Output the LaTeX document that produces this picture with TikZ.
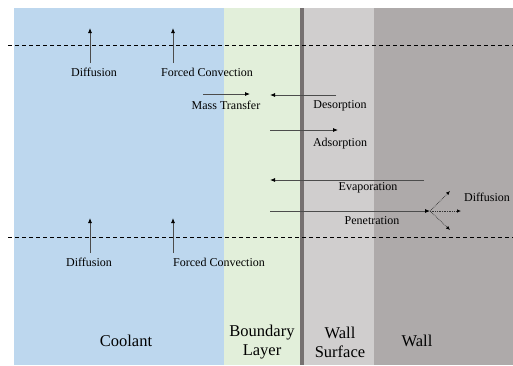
\documentclass[tikz,border=0pt]{standalone}
\usepackage{fontspec}
\setmainfont{Liberation Serif}
\usetikzlibrary{arrows.meta,positioning}
\definecolor{coolantblue}{HTML}{BDD7EE}
\definecolor{layergreen}{HTML}{E2EFDA}
\definecolor{surfgray}{HTML}{D0CECE}
\definecolor{wallgray}{HTML}{AEAAAA}
\definecolor{edgegray}{HTML}{767171}

\begin{document}
\begin{tikzpicture}[x=1pt, y=-1pt,
  lbl/.style={font=\fontsize{12}{14}\selectfont, inner sep=1pt},
  region/.style={align=center, font=\fontsize{16.5}{19}\selectfont, inner sep=1pt},
  arr/.style={-{Latex[length=5pt,width=4pt,color=black]}, draw=black!70, line width=0.8pt},
  dotarr/.style={-{Latex[length=4pt,width=3.5pt,color=black]}, draw=black!80, densely dotted, line width=0.7pt},
  level/.style={dash pattern=on 4pt off 3pt, line width=0.6pt}
]
\useasboundingbox (0,0) rectangle (513,365);
% layers
\fill[coolantblue] (14,8) rectangle (224,365);
\fill[layergreen] (224,8) rectangle (301,365);
\fill[surfgray] (301,8) rectangle (374,365);
\fill[wallgray] (374,8) rectangle (513,365);
\draw[edgegray, line width=3.2pt] (302,8) -- (302,365);
% dashed levels
\coordinate (topL) at (8,45);
\coordinate (topR) at (513,45);
\coordinate (botL) at (8,237);
\coordinate (botR) at (513,237);
\draw[level] (topL) -- (topR);
\draw[level] (botL) -- (botR);

% coolant, upper
\coordinate (dif1a) at (90,63);
\coordinate (dif1b) at (90,28);
\coordinate (fc1a) at (173,63);
\coordinate (fc1b) at (173,28);
\draw[arr] (dif1a) -- (dif1b);
\draw[arr] (fc1a) -- (fc1b);
\node[lbl] (dif1) at (94,72) {Diffusion};
\node[lbl] (fc1) at (207,72) {Forced Convection};

% coolant, lower
\coordinate (dif2a) at (90,253);
\coordinate (dif2b) at (90,218);
\coordinate (fc2a) at (173,253);
\coordinate (fc2b) at (173,218);
\draw[arr] (dif2a) -- (dif2b);
\draw[arr] (fc2a) -- (fc2b);
\node[lbl] (dif2) at (89,262) {Diffusion};
\node[lbl] (fc2) at (219,262) {Forced Convection};

% boundary layer / wall exchange
\coordinate (mtA) at (203,94);
\coordinate (mtB) at (250,94);
\draw[arr] (mtA) -- (mtB);
\node[lbl] (mt) at (226,105) {Mass Transfer};

\coordinate (desA) at (336,95);
\coordinate (desB) at (270,95);
\draw[arr] (desA) -- (desB);
\node[lbl] (des) at (340,106) {Desorption};

\coordinate (adsA) at (270,130);
\coordinate (adsB) at (338,130);
\draw[arr] (adsA) -- (adsB);
\node[lbl] (ads) at (340,144) {Adsorption};

\coordinate (evaA) at (424,180);
\coordinate (evaB) at (270,180);
\draw[arr] (evaA) -- (evaB);
\node[lbl] (eva) at (368,188) {Evaporation};

\coordinate (penA) at (270,211);
\coordinate (penB) at (430,211);
\draw[arr] (penA) -- (penB);
\node[lbl] (pen) at (372,221) {Penetration};

% spreading in the wall
\coordinate (sprUp) at (450,191);
\coordinate (sprMid) at (461,211);
\coordinate (sprDn) at (450,230);
\draw[dotarr] (penB) -- (sprUp);
\draw[dotarr] (penB) -- (sprMid);
\draw[dotarr] (penB) -- (sprDn);
\node[lbl] (dif3) at (487,197) {Diffusion};

% layer names
\node[region] (coolant) at (126,341) {Coolant};
\node[region] (blayer) at (262,342) {Boundary\\Layer};
\node[region] (wsurf) at (340,342) {Wall\\Surface};
\node[region] (wall) at (417,341) {Wall};
\end{tikzpicture}
\end{document}
